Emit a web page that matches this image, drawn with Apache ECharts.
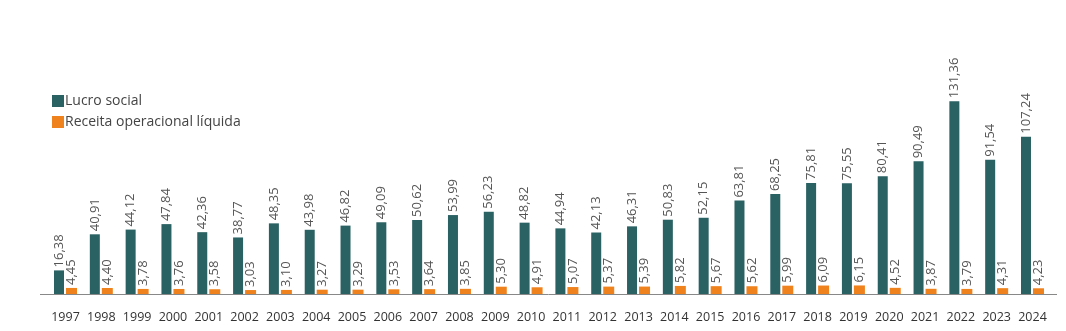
<!DOCTYPE html>
<html><head><meta charset="utf-8">
<script src="https://cdn.jsdelivr.net/npm/echarts@6/dist/echarts.min.js"></script>
<style>html,body{margin:0;padding:0;background:#fff}#c{width:1066px;height:331px}</style>
</head><body><div id="c"></div>
<script>
const years = ['1997','1998','1999','2000','2001','2002','2003','2004','2005','2006','2007','2008','2009','2010','2011','2012','2013','2014','2015','2016','2017','2018','2019','2020','2021','2022','2023','2024'];
const lucroSocial = [16.38,40.91,44.12,47.84,42.36,38.77,48.35,43.98,46.82,49.09,50.62,53.99,56.23,48.82,44.94,42.13,46.31,50.83,52.15,63.81,68.25,75.81,75.55,80.41,90.49,131.36,91.54,107.24];
const receitaLiquida = [4.45,4.40,3.78,3.76,3.58,3.03,3.10,3.27,3.29,3.53,3.64,3.85,5.30,4.91,5.07,5.37,5.39,5.82,5.67,5.62,5.99,6.09,6.15,4.52,3.87,3.79,4.31,4.23];
const seriesNames = ['Lucro social','Receita operacional líquida'];

const FONT = '"Open Sans", sans-serif';
const fmt = p => p.value.toFixed(2).replace('.', ',');
const lbl = {show:true, position:'top', rotate:90, align:'left', verticalAlign:'middle', distance:3,
  color:'#555', fontFamily:FONT, fontSize:13, formatter:fmt};

const chart = echarts.init(document.getElementById('c'));
chart.setOption({
  animation:false,
  textStyle:{fontFamily:FONT},
  legend:{orient:'vertical', left:47, top:89, itemWidth:12, itemHeight:12, itemGap:7,
    icon:'rect', textStyle:{color:'#444', fontSize:14, fontFamily:FONT, padding:[0,0,0,-4]},
    data:seriesNames},
  grid:{left:47.6, right:15.6, top:88.5, bottom:36.5, containLabel:false},
  xAxis:{type:'category', data:years, axisTick:{show:false},
    axisLine:{show:false},
    axisLabel:{color:'#333', fontSize:12.5, margin:16, interval:0, fontFamily:FONT}},
  yAxis:{type:'value', min:0, max:140, show:false, splitLine:{show:false}},
  graphic:[{type:'line', shape:{x1:40, y1:294.5, x2:1057, y2:294.5}, style:{stroke:'#888', lineWidth:1}, z:10}],
  series:[
    {name:seriesNames[0], type:'bar', data:lucroSocial, barWidth:10, barGap:'20%',
      itemStyle:{color:'#2a6163'}, label:lbl},
    {name:seriesNames[1], type:'bar', data:receitaLiquida, barWidth:11,
      itemStyle:{color:'#f0821e'}, label:lbl}
  ]
});
</script></body></html>
